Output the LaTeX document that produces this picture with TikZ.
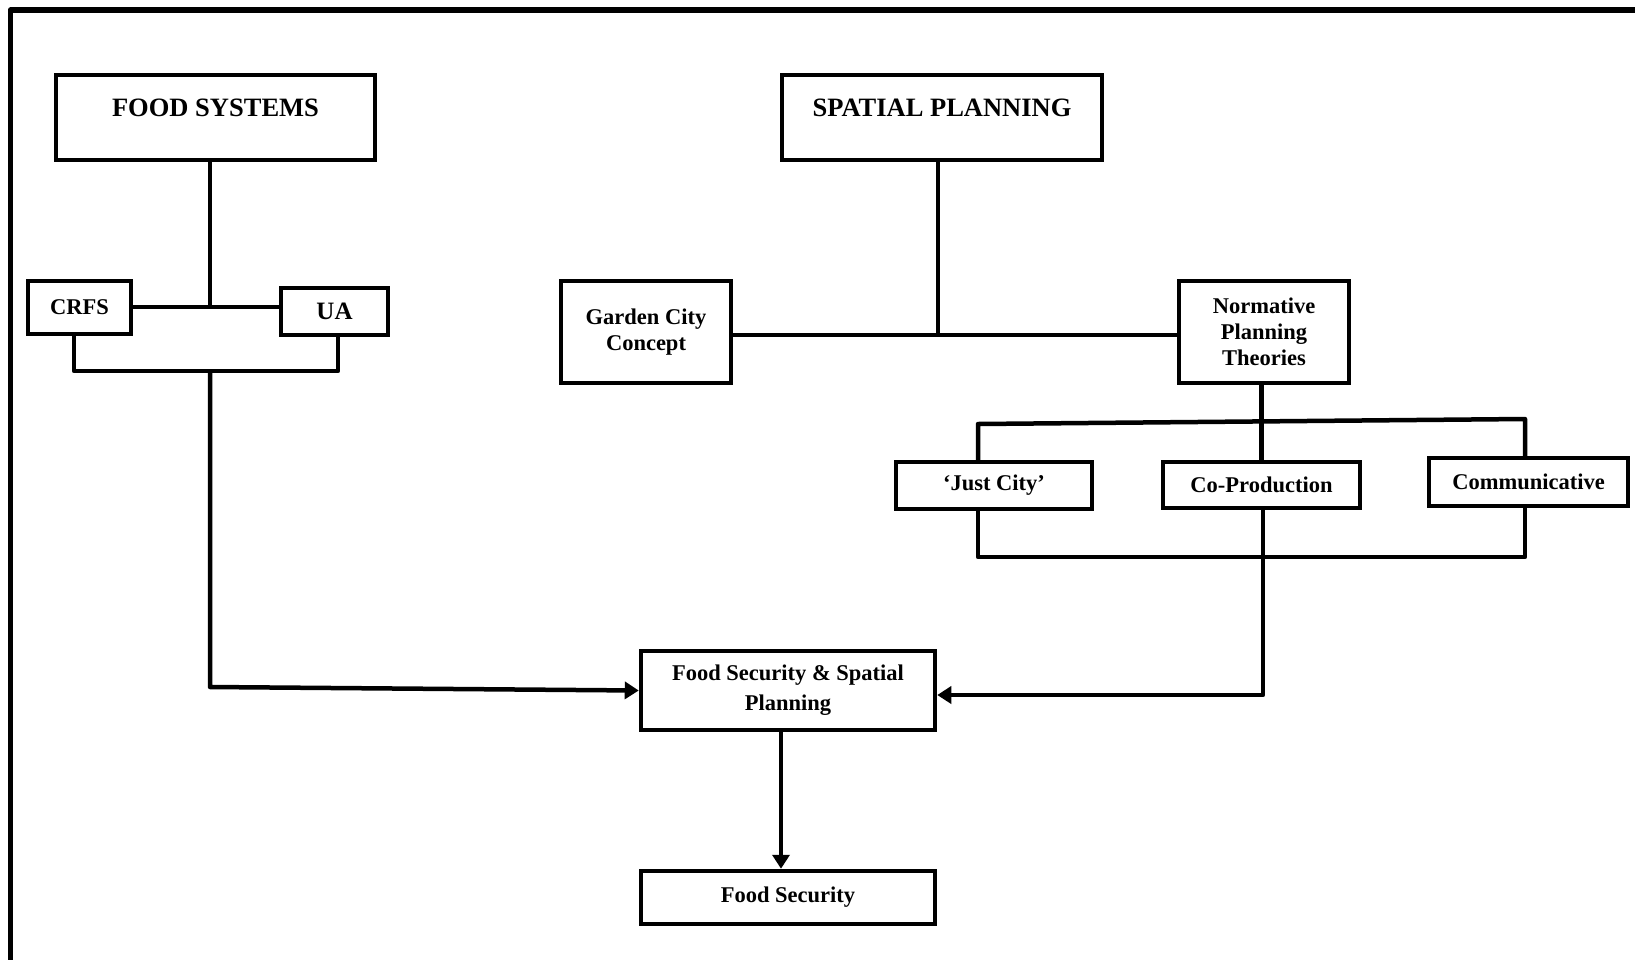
\documentclass[tikz,border=0pt]{standalone}
\usepackage{fontspec}
\setmainfont{Liberation Serif}
\usetikzlibrary{arrows.meta}

\begin{document}
\begin{tikzpicture}[x=1pt, y=-1pt, line width=4.5pt, line join=round,
    box/.style={draw, line join=miter, inner sep=0pt, align=center,
      font=\bfseries\fontsize{22.5}{26}\selectfont},
    titlebox/.style={box, minimum width=319pt, minimum height=85pt,
      font=\bfseries\fontsize{26.5}{32}\selectfont, text height=18pt, text depth=20pt},
    flow/.style={-{Triangle[length=14pt,width=17pt]}}]
  \useasboundingbox (0,0) rectangle (1635,959);
  \draw[line width=5.5pt] (1650,10) -- (10.5,10) -- (10.5,975);

  % ===== food systems =====
  \node[titlebox] (foodsys) at (215.5,117.5) {FOOD SYSTEMS};
  \node[box, minimum width=103pt, minimum height=53pt] (crfs) at (79.5,307.5) {CRFS};
  \node[box, minimum width=107pt, minimum height=47pt,
    font=\bfseries\fontsize{25}{30}\selectfont] (ua) at (334.5,311.5) {UA};

  \coordinate (fsj) at (210,307);
  \coordinate (brl) at (74,371);
  \coordinate (brm) at (210,371);
  \coordinate (brr) at (338,371);
  \coordinate (fsbend) at (210,687);
  \draw (fsj |- foodsys.south) -- (fsj);
  \draw (crfs.east |- fsj) -- (ua.west |- fsj);
  \draw (crfs.south -| brl) -- (brl) -- (brr) -- (ua.south -| brr);

  % ===== spatial planning =====
  \node[titlebox, minimum width=320pt] (spatial) at (942,117.5) {SPATIAL PLANNING};
  \node[box, minimum width=170pt, minimum height=102pt] (garden) at (646,332) {Garden City\\Concept};
  \node[box, minimum width=170pt, minimum height=102pt] (normative) at (1264,332) {Normative\\Planning\\Theories};

  \coordinate (spj) at (938,335);
  \draw (spj |- spatial.south) -- (spj);
  \draw (garden.east |- spj) -- (normative.west |- spj);

  % ===== planning theories =====
  \node[box, minimum width=196pt, minimum height=47pt] (justcity) at (994,485.5) {`Just City'};
  \node[box, minimum width=197pt, minimum height=46pt] (coprod) at (1261.5,485) {Co-Production};
  \node[box, minimum width=199pt, minimum height=48pt] (communic) at (1528.5,482) {Communicative};

  \coordinate (tbl) at (978,424);
  \coordinate (tbr) at (1525,419);
  \coordinate (bbl) at (978,557);
  \coordinate (bbr) at (1525,557);
  \draw (normative.south -| coprod.north) -- (coprod.north);
  \draw (justcity.north -| tbl) -- (tbl) -- (tbr) -- (communic.north -| tbr);
  \draw (justcity.south -| bbl) -- (bbl) -- (bbr) -- (communic.south -| bbr);

  % ===== outcome =====
  \node[box, minimum width=294pt, minimum height=79pt,
    font=\bfseries\fontsize{22.5}{30}\selectfont] (fssp) at (788,690.5) {Food Security \& Spatial\\Planning};
  \node[box, minimum width=294pt, minimum height=53pt] (foodsec) at (788,897.5) {Food Security};

  \coordinate (cpbend) at (1263,695);
  \draw[flow] (brm) -- (fsbend) -- (fssp.west);
  \draw[flow] (coprod.south -| cpbend) -- (cpbend) -- (fssp.east |- cpbend);
  \draw[flow] ([xshift=-7pt]fssp.south) -- ([xshift=-7pt]foodsec.north);
\end{tikzpicture}
\end{document}
